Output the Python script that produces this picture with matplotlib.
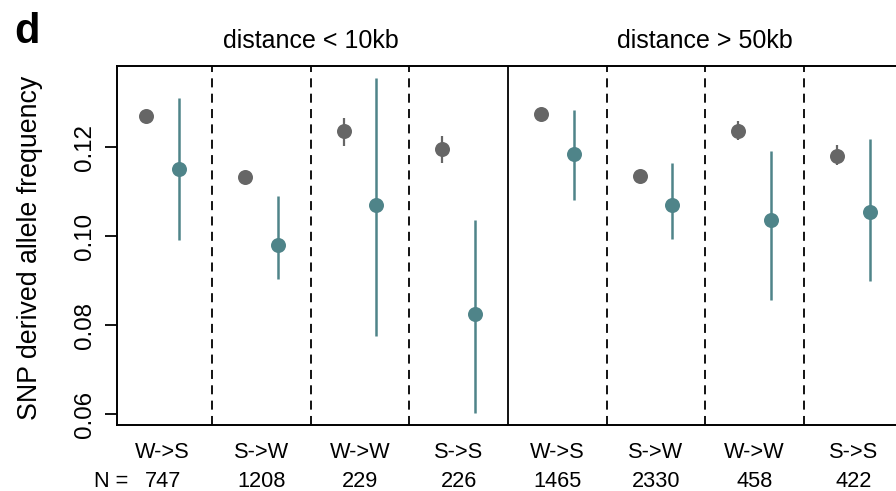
import matplotlib
matplotlib.use("Agg")
import matplotlib.pyplot as plt
import numpy as np

plt.rcParams['font.family'] = ['Liberation Sans', 'DejaVu Sans']

categories = ["W->S", "S->W", "W->W", "S->S", "W->S", "S->W", "W->W", "S->S"]
counts = ["747", "1208", "229", "226", "1465", "2330", "458", "422"]
panel_titles = ["distance < 10kb", "distance > 50kb"]

bg_mean = [0.1271, 0.1133, 0.1238, 0.1196, 0.1274, 0.1136, 0.1236, 0.1181]
bg_low = [0.1262, 0.1124, 0.1204, 0.1165, 0.1266, 0.1128, 0.1216, 0.1160]
bg_high = [0.1280, 0.1142, 0.1265, 0.1226, 0.1282, 0.1144, 0.1259, 0.1206]

snp_mean = [0.1152, 0.0981, 0.1070, 0.0825, 0.1185, 0.1070, 0.1037, 0.1055]
snp_low = [0.0992, 0.0905, 0.0776, 0.0604, 0.1082, 0.0994, 0.0856, 0.0900]
snp_high = [0.1310, 0.1090, 0.1355, 0.1037, 0.1283, 0.1165, 0.1191, 0.1220]

yticks = [0.06, 0.08, 0.10, 0.12]

grey = "#666666"
teal = "#4f8489"

fig = plt.figure(figsize=(8.96, 4.91), dpi=100)
ax_h = (425 - 66) / 491
ax_w = (899 - 117) / 896
ax = fig.add_axes([117/896, 1-425/491, ax_w, ax_h])

x = np.arange(len(categories))
xg = x + 1/3
xt = x + 2/3

ax.vlines(xg, bg_low, bg_high, color=grey, lw=1.6, zorder=2)
ax.plot(xg, bg_mean, 'o', color=grey, ms=10.8, mec='none', zorder=3)
ax.vlines(xt, snp_low, snp_high, color=teal, lw=1.8, zorder=2)
ax.plot(xt, snp_mean, 'o', color=teal, ms=10.8, mec='none', zorder=3)

for k in range(1, len(categories)):
    if k == 4:
        ax.axvline(k, color='black', lw=1.3, zorder=1)
    else:
        ax.axvline(k, color='black', lw=1.3, ls=(0, (5, 3.5)), zorder=1)

ax.set_xlim(0.037, 7.963)
ax.set_ylim(0.0576, 0.1383)
ax.set_yticks(yticks)
ax.set_yticklabels([f"{v:.2f}" for v in yticks], rotation=90, va='center', fontsize=17.4)
ax.tick_params(axis='y', length=9, width=1.3, pad=6)
ax.set_xticks([])
for s in ax.spines.values():
    s.set_linewidth(1.4)

px = 1 / 359.0  # axes-fraction per pixel (vertical)
trans = ax.get_xaxis_transform()
for i, (c, n) in enumerate(zip(categories, counts)):
    ax.text(i + 0.5, -33 * px, c, transform=trans, ha='center', va='baseline', fontsize=15.7)
    ax.text(i + 0.5, -62 * px, n, transform=trans, ha='center', va='baseline', fontsize=15.7)
ax.text((128 - 117) / 782, -62 * px, "N =", transform=ax.transAxes,
        ha='right', va='baseline', fontsize=15.7)

for j, t in enumerate(panel_titles):
    ax.text(2 + 4 * j, 1 + 18 * px, t, transform=trans, ha='center', va='baseline', fontsize=18)

fig.text(37/896, 1-247.5/491, "SNP derived allele frequency", rotation=90,
         rotation_mode='anchor', ha='center', va='baseline', fontsize=19.3)
fig.text(27/896, 1-43/491, "d", ha='center', va='baseline', fontsize=30, fontweight='bold')

fig.savefig("out.png", dpi=100)
